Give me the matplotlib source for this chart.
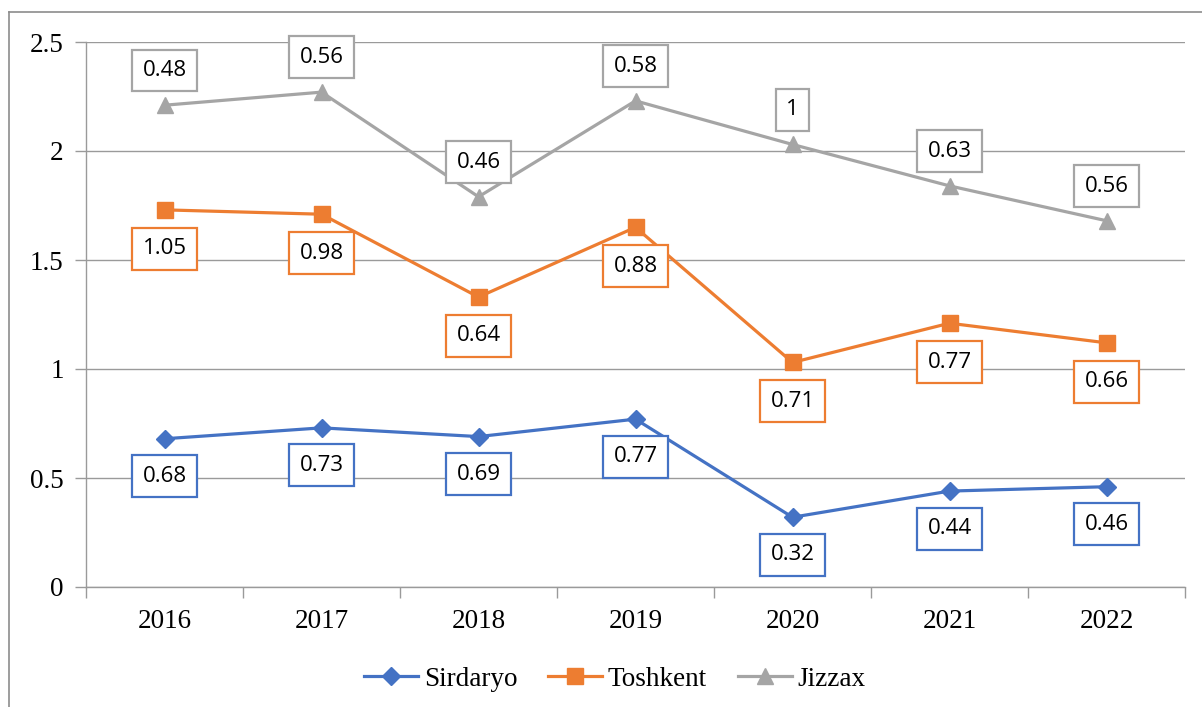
"""
plot.py — stacked line chart: Sirdaryo / Toshkent / Jizzax (2016–2022)
"""

import numpy as np
import matplotlib
matplotlib.use("Agg")
import matplotlib.pyplot as plt
from matplotlib.lines import Line2D

# ─────────────────────────────────────────────────────────────
# Data
# ─────────────────────────────────────────────────────────────
years = ["2016", "2017", "2018", "2019", "2020", "2021", "2022"]
series_names = ["Sirdaryo", "Toshkent", "Jizzax"]
sirdaryo = [0.68, 0.73, 0.69, 0.77, 0.32, 0.44, 0.46]
toshkent = [1.05, 0.98, 0.64, 0.88, 0.71, 0.77, 0.66]
jizzax = [0.48, 0.56, 0.46, 0.58, 1, 0.63, 0.56]
yticks = [0, 0.5, 1, 1.5, 2, 2.5]

colors = ["#4472C4", "#ED7D31", "#A5A5A5"]
markers = ["D", "s", "^"]
msizes = [9.5, 11, 12]
label_offsets = [-27, -28, 25]   # points; negative = below

SERIF = "Liberation Serif"
SANS = "Open Sans"

# ─────────────────────────────────────────────────────────────
# Figure
# ─────────────────────────────────────────────────────────────
fig = plt.figure(figsize=(12.02, 7.07), dpi=100)
ax = fig.add_axes([86 / 1202, 1 - 587 / 707, 1099 / 1202, 545 / 707])

# outer chart frame (left + top visible)
fig.add_artist(Line2D([9 / 1202, 9 / 1202], [0, 1 - 12 / 707],
                      transform=fig.transFigure, color="#8c8c8c", lw=1.2))
fig.add_artist(Line2D([9 / 1202, 1], [1 - 12 / 707, 1 - 12 / 707],
                      transform=fig.transFigure, color="#8c8c8c", lw=1.2))

x = np.arange(len(years))
stacked = np.cumsum(np.array([sirdaryo, toshkent, jizzax]), axis=0)
raw = [sirdaryo, toshkent, jizzax]

for i, name in enumerate(series_names):
    ax.plot(x, stacked[i], color=colors[i], lw=2.3, marker=markers[i],
            markersize=msizes[i], label=name, zorder=3)
    for xi, yi, v in zip(x, stacked[i], raw[i]):
        ax.annotate(f"{v:g}", (xi, yi), xytext=(0, label_offsets[i]),
                    textcoords="offset points", ha="center", va="center",
                    fontsize=16, family=SANS, color="black", zorder=4,
                    bbox=dict(boxstyle="square,pad=0.47", fc="white",
                              ec=colors[i], lw=1.6))

ax.set_xlim(-0.5, len(years) - 0.5)
ax.set_ylim(0, 2.5)
ax.set_yticks(yticks)
ax.set_yticklabels([f"{t:g}" for t in yticks], family=SERIF, fontsize=19.5)
ax.set_xticks(x)
ax.set_xticklabels(years, family=SERIF, fontsize=19.5)
ax.set_xticks(np.arange(-0.5, len(years)), minor=True)
ax.tick_params(axis="x", which="major", length=0, pad=16)
ax.tick_params(axis="x", which="minor", length=8, color="#9a9a9a", width=1)
ax.tick_params(axis="y", length=8, color="#9a9a9a", width=1, pad=8)

ax.grid(axis="y", color="#9a9a9a", lw=1)
ax.set_axisbelow(True)
for side in ["top", "right"]:
    ax.spines[side].set_visible(False)
for side in ["left", "bottom"]:
    ax.spines[side].set_color("#9a9a9a")
    ax.spines[side].set_linewidth(1)

fig.legend(loc="center", bbox_to_anchor=(615 / 1202, 1 - 679 / 707), ncol=3,
           frameon=False, prop={"family": SERIF, "size": 19.5},
           handlelength=2.0, columnspacing=1.15, handletextpad=0.2)

plt.savefig("out.png", dpi=100)
plt.close()
